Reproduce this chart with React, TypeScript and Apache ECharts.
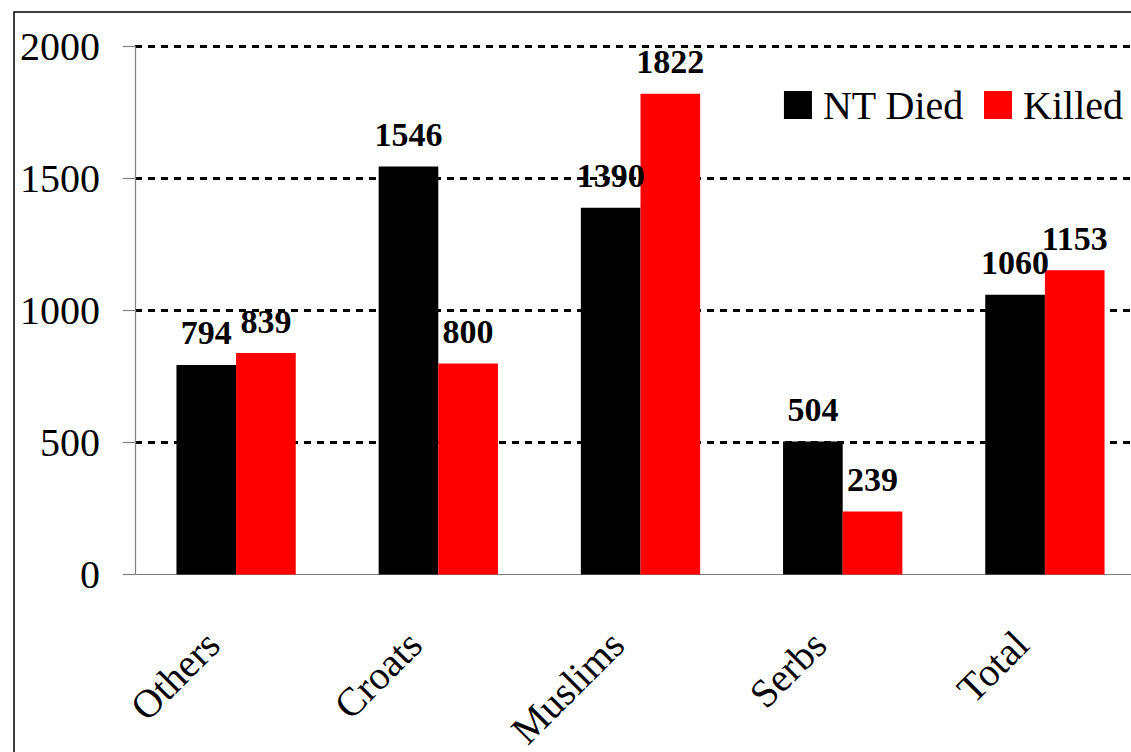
import React, { useEffect, useRef } from "react";
import * as echarts from "echarts";

const categories = ["Others", "Croats", "Muslims", "Serbs", "Total"];
const ntDied = [794, 1546, 1390, 504, 1060];
const killed = [839, 800, 1822, 239, 1153];
const seriesNames = ["NT Died", "Killed"];

const FONT = "'Liberation Serif', 'Times New Roman', serif";

export default function App() {
  const ref = useRef<HTMLDivElement>(null);
  useEffect(() => {
    if (!ref.current) return;
    const chart = echarts.init(ref.current, null, { renderer: "svg" });
    const labelStyle = {
      show: true,
      position: "top" as const,
      distance: 15,
      fontFamily: FONT,
      fontSize: 34,
      fontWeight: "bold" as const,
      color: "#000",
    };
    chart.setOption({
      animation: false,
      backgroundColor: "#fff",
      graphic: [
        {
          type: "rect",
          shape: { x: 14, y: 12, width: 1300, height: 900 },
          style: { fill: "none", stroke: "#000", lineWidth: 1.5 },
          silent: true,
          z: -1,
        },
      ],
      legend: {
        data: seriesNames,
        top: 80,
        right: 3,
        itemWidth: 28,
        itemHeight: 28,
        itemGap: 20,
        icon: "rect",
        textStyle: {
          fontFamily: FONT,
          fontSize: 40,
          color: "#000",
          padding: [0, 0, 0, 6],
        },
      },
      grid: {
        left: 135,
        top: 46.7,
        bottom: 177.5,
        right: -15,
        containLabel: false,
        outerBoundsMode: "none",
      },
      xAxis: {
        type: "category",
        data: categories,
        axisLine: { lineStyle: { color: "#808080", width: 1.2 } },
        axisTick: { length: 14, lineStyle: { color: "#808080", width: 1.2 } },
        axisLabel: {
          rotate: 45,
          margin: 40,
          padding: [0, 33, 0, 0],
          fontFamily: FONT,
          fontSize: 40,
          lineHeight: 28,
          color: "#000",
        },
      },
      yAxis: {
        type: "value",
        min: 0,
        max: 2000,
        interval: 500,
        axisLine: { show: true, lineStyle: { color: "#808080", width: 1.2 } },
        axisTick: { show: true, length: 12, lineStyle: { color: "#808080", width: 1.2 } },
        axisLabel: {
          margin: 35,
          fontFamily: FONT,
          fontSize: 40,
          color: "#000",
          formatter: (v: number) => String(v),
        },
        splitLine: {
          show: true,
          showMinLine: false,
          lineStyle: { color: "#000", width: 3, type: [7, 6] },
        },
      },
      series: [
        {
          name: seriesNames[0],
          type: "bar",
          data: ntDied,
          barGap: "0%",
          barCategoryGap: "41%",
          itemStyle: { color: "#000" },
          label: labelStyle,
        },
        {
          name: seriesNames[1],
          type: "bar",
          data: killed,
          barGap: "0%",
          barCategoryGap: "41%",
          itemStyle: { color: "#ff0000" },
          label: labelStyle,
        },
      ],
    });
    return () => chart.dispose();
  }, []);
  return (
    <div
      ref={ref}
      style={{ position: "absolute", left: 0, top: 0, width: 1131, height: 752 }}
    />
  );
}
